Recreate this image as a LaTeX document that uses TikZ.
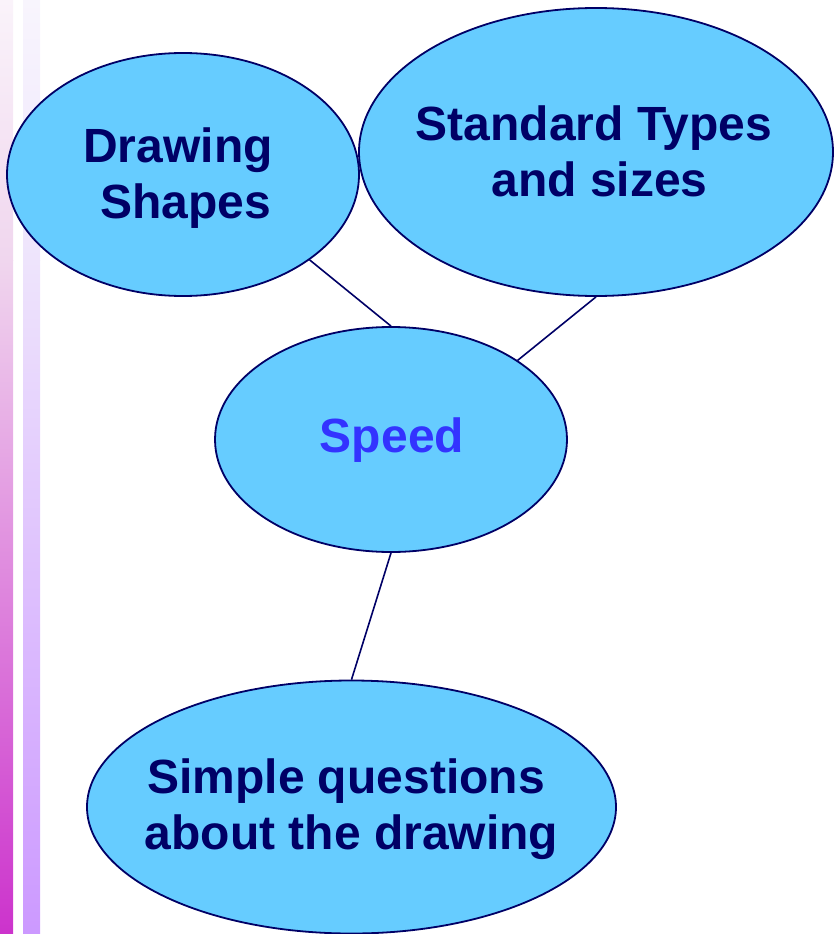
\documentclass[tikz,border=0pt]{standalone}
\usepackage{fontspec}
\setmainfont{Liberation Sans}
\usetikzlibrary{shapes.geometric}
\definecolor{bubble}{HTML}{66CCFF}
\definecolor{edge}{HTML}{000066}
\definecolor{speedc}{HTML}{3333FF}
\definecolor{stripA}{HTML}{CC33CC}
\definecolor{stripAmid}{HTML}{F0D6EE}
\definecolor{stripAtop}{HTML}{FAF3FA}
\definecolor{stripB}{HTML}{CC99FF}
\definecolor{stripBmid}{HTML}{EEE4FC}
\definecolor{stripBtop}{HTML}{F8F5FD}
\tikzset{
  bub/.style={ellipse, draw=edge, fill=bubble, line width=1.8pt, inner sep=0pt},
  txt/.style={align=center, inner sep=0pt, font=\fontsize{48}{56}\selectfont\bfseries, text=edge},
  link/.style={draw=edge, line width=1.6pt}
}
\begin{document}
\begin{tikzpicture}[x=1pt,y=1pt]
\useasboundingbox (0,0) rectangle (834,-934);
\shade[top color=stripAtop, bottom color=stripAmid] (0,0) rectangle (13,-260);
\shade[top color=stripAmid, bottom color=stripA] (0,-260) rectangle (13,-934);
\shade[top color=stripBtop, bottom color=stripBmid] (23,0) rectangle (40,-260);
\shade[top color=stripBmid, bottom color=stripB] (23,-260) rectangle (40,-934);
\node[bub, minimum width=352pt, minimum height=243pt,
  label={[txt, shift={(-5,-4)}]center:Drawing\\\hspace*{15pt}Shapes}] (draw) at (183,-174.5) {};
\node[bub, minimum width=474pt, minimum height=288pt,
  label={[txt, shift={(-2,1)}]center:Standard Types\\\hspace*{11pt}and sizes}] (std) at (596,-152) {};
\node[bub, minimum width=352pt, minimum height=225pt,
  label={[txt, text=speedc, shift={(1,-1)}]center:Speed}] (speed) at (391,-439.5) {};
\node[bub, minimum width=529pt, minimum height=253pt,
  label={[txt, shift={(0,-2)}]center:Simple questions\hspace*{11pt}\\about the drawing}] (simple) at (351.5,-807) {};
\draw[link] (draw.-34.7) -- (speed.north);
\draw[link] (std.south) -- (speed.32.5);
\draw[link] (speed.south) -- (simple.north);
\end{tikzpicture}
\end{document}
